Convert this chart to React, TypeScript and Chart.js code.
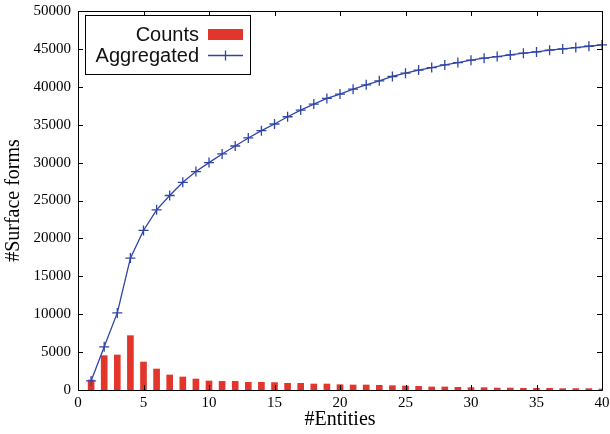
import React, { useEffect, useRef } from "react";
import { Chart, registerables } from "chart.js";

Chart.register(...registerables);

const entities = [1,2,3,4,5,6,7,8,9,10,11,12,13,14,15,16,17,18,19,20,21,22,23,24,25,26,27,28,29,30,31,32,33,34,35,36,37,38,39,40];
const counts = [1320,4530,4620,7170,3690,2770,1980,1715,1450,1190,1140,1140,1010,1010,970,880,880,790,790,700,660,660,620,570,530,480,400,400,350,310,310,260,260,220,220,220,180,180,180,130];
const aggregated = [1200,5700,10170,17400,21050,23770,25660,27400,28820,30000,31140,32190,33250,34210,35090,36050,36930,37720,38460,39040,39690,40260,40790,41360,41800,42200,42540,42890,43200,43510,43770,43990,44210,44430,44600,44830,45000,45170,45350,45530];
const xTicks = [0,5,10,15,20,25,30,35,40];
const yTicks = [0,5000,10000,15000,20000,25000,30000,35000,40000,45000,50000];

const RED = "#e2352b";
const BLUE = "#2f45a5";
const SERIF = "'Liberation Serif', 'Times New Roman', serif";
const SANS = "'Liberation Sans', Arial, sans-serif";

const framePlugin = {
  id: "frameTicks",
  afterDraw(chart: any) {
    const { ctx, chartArea: a, scales } = chart;
    const xs = scales.x, ys = scales.y;
    ctx.save();
    ctx.strokeStyle = "#000";
    ctx.lineWidth = 1;
    ctx.beginPath();
    ctx.rect(Math.round(a.left) + 0.5, Math.round(a.top) + 0.5, Math.round(a.right - a.left), Math.round(a.bottom - a.top));
    ctx.stroke();
    const L = 5;
    ctx.beginPath();
    for (const t of xTicks) {
      const px = Math.round(xs.getPixelForValue(t)) + 0.5;
      ctx.moveTo(px, a.bottom); ctx.lineTo(px, a.bottom - L);
      ctx.moveTo(px, a.top); ctx.lineTo(px, a.top + L);
    }
    for (const t of yTicks) {
      const py = Math.round(ys.getPixelForValue(t)) + 0.5;
      ctx.moveTo(a.left, py); ctx.lineTo(a.left + L, py);
      ctx.moveTo(a.right, py); ctx.lineTo(a.right - L, py);
    }
    ctx.stroke();

    // legend
    const bx = 85, by = 15, bw = 165, bh = 59;
    ctx.fillStyle = "#fff";
    ctx.fillRect(bx, by, bw, bh);
    ctx.strokeStyle = "#000";
    ctx.strokeRect(bx + 0.5, by + 0.5, bw, bh);
    ctx.fillStyle = "#111";
    ctx.font = `20px ${SANS}`;
    ctx.textAlign = "right";
    ctx.textBaseline = "middle";
    ctx.fillText(chart.data.datasets[0].label, 199, 35);
    ctx.fillText(chart.data.datasets[1].label, 199, 56);
    ctx.fillStyle = RED;
    ctx.fillRect(208, 29, 35, 11);
    ctx.strokeStyle = BLUE;
    ctx.lineWidth = 1.3;
    ctx.beginPath();
    ctx.moveTo(208, 55.5); ctx.lineTo(243, 55.5);
    ctx.moveTo(225.5, 50.5); ctx.lineTo(225.5, 60.5);
    ctx.stroke();
    ctx.restore();
  },
};

export default function App() {
  const ref = useRef<HTMLCanvasElement>(null);
  useEffect(() => {
    const chart = new Chart(ref.current!, {
      type: "bar",
      data: {
        datasets: [
          {
            type: "bar",
            label: "Counts",
            data: entities.map((e, i) => ({ x: e, y: counts[i] })),
            backgroundColor: RED,
            barThickness: 6,
            order: 2,
          } as any,
          {
            type: "line",
            label: "Aggregated",
            data: entities.map((e, i) => ({ x: e, y: aggregated[i] })),
            borderColor: BLUE,
            backgroundColor: BLUE,
            borderWidth: 1.3,
            pointStyle: "cross",
            pointRadius: 5,
            pointBorderWidth: 1.3,
            pointBorderColor: BLUE,
            tension: 0,
            fill: false,
            clip: false,
            order: 1,
          } as any,
        ],
      },
      options: {
        animation: false,
        responsive: false,
        maintainAspectRatio: false,
        layout: { padding: { top: 11, right: 8, left: 0, bottom: 0 } },
        plugins: { legend: { display: false }, tooltip: { enabled: false } },
        scales: {
          x: {
            type: "linear",
            min: 0,
            max: 40,
            offset: false,
            afterBuildTicks: (s: any) => { s.ticks = xTicks.map((v) => ({ value: v })); },
            afterFit: (s: any) => { s.height = 44; s.paddingRight = 0; s.paddingLeft = 0; },
            ticks: { color: "#000", font: { family: SERIF, size: 15 }, padding: 4, maxRotation: 0, autoSkip: false, callback: (v: any) => String(v) },
            grid: { display: false, drawTicks: false, offset: false },
            border: { display: false },
            title: { display: true, text: "#Entities", color: "#000", font: { family: SERIF, size: 20 }, padding: { top: 0, bottom: 2 } },
          },
          y: {
            type: "linear",
            min: 0,
            max: 50000,
            afterBuildTicks: (s: any) => { s.ticks = yTicks.map((v) => ({ value: v })); },
            afterFit: (s: any) => { s.width = 78; s.paddingTop = 0; s.paddingBottom = 0; },
            ticks: { color: "#000", font: { family: SERIF, size: 15 }, padding: 7, autoSkip: false, callback: (v: any) => String(v) },
            grid: { display: false, drawTicks: false },
            border: { display: false },
            title: { display: true, text: "#Surface forms", color: "#000", font: { family: SERIF, size: 20 }, padding: { top: 2, bottom: 4 } },
          },
        },
      } as any,
      plugins: [framePlugin],
    });
    return () => chart.destroy();
  }, []);
  return (
    <div style={{ position: "absolute", left: 0, top: 0, width: 610, height: 434, background: "#fff" }}>
      <canvas ref={ref} width={610} height={434} style={{ display: "block", width: 610, height: 434 }} />
    </div>
  );
}
